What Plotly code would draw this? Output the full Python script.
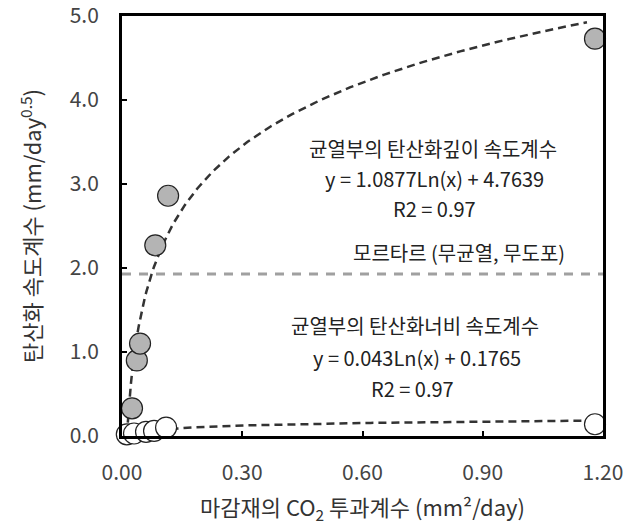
import numpy as np
import plotly.graph_objects as go

# Data
depth_x = [0.025, 0.037, 0.045, 0.083, 0.115, 1.18]
depth_y = [0.33, 0.90, 1.10, 2.27, 2.86, 4.73]
width_x = [0.012, 0.03, 0.06, 0.08, 0.11, 1.18]
width_y = [0.02, 0.03, 0.05, 0.06, 0.10, 0.14]
depth_fit = (1.0877, 4.7639)
width_fit = (0.043, 0.1765)
mortar_y = 1.93
x_ticks = [0.0, 0.3, 0.6, 0.9, 1.2]
x_ticklabels = ["0.00", "0.30", "0.60", "0.90", "1.20"]
y_ticks = [0, 1, 2, 3, 4, 5]
y_ticklabels = ["0.0", "1.0", "2.0", "3.0", "4.0", "5.0"]

font = "Noto Sans CJK KR"

fx_d = np.linspace(0.0145, 1.16, 300)
fy_d = depth_fit[0] * np.log(fx_d) + depth_fit[1]
fx_w = np.linspace(0.025, 1.165, 300)
fy_w = width_fit[0] * np.log(fx_w) + width_fit[1]

fig = go.Figure()
fig.add_trace(go.Scatter(x=[0, 1.2], y=[mortar_y, mortar_y], mode="lines",
                         line=dict(color="#a0a0a0", width=3, dash="9px,8px"),
                         hoverinfo="skip"))
fig.add_trace(go.Scatter(x=fx_d, y=fy_d, mode="lines",
                         line=dict(color="#333333", width=2.5, dash="8px,5px")))
fig.add_trace(go.Scatter(x=fx_w, y=fy_w, mode="lines",
                         line=dict(color="#333333", width=2.5, dash="8px,5px")))
fig.add_trace(go.Scatter(x=depth_x, y=depth_y, mode="markers",
                         marker=dict(size=21, color="#b4b4b4",
                                     line=dict(color="#222222", width=1.2))))
fig.add_trace(go.Scatter(x=width_x, y=width_y, mode="markers",
                         marker=dict(size=21, color="white",
                                     line=dict(color="#222222", width=1.2))))

ann = [
    ("균열부의 탄산화깊이 속도계수", 0.775, 3.42),
    ("y = 1.0877Ln(x) + 4.7639", 0.78, 3.06),
    ("R2 = 0.97", 0.78, 2.71),
    ("모르타르 (무균열, 무도포)", 0.84, 2.18),
    ("균열부의 탄산화너비 속도계수", 0.73, 1.32),
    ("y = 0.043Ln(x) + 0.1765", 0.737, 0.93),
    ("R2 = 0.97", 0.725, 0.56),
]
annotations = [dict(x=x, y=y, xref="x", yref="y", text=t, showarrow=False,
                    font=dict(family=font, size=20, color="#222222"))
               for t, x, y in ann]

fig.update_layout(
    width=638, height=526,
    margin=dict(l=122, r=35, t=16, b=90),
    plot_bgcolor="white", paper_bgcolor="white",
    showlegend=False,
    annotations=annotations,
    font=dict(family=font, color="#333333"),
    xaxis=dict(range=[0, 1.2], tickvals=x_ticks, ticktext=x_ticklabels,
               showgrid=False, zeroline=False, showline=True, linecolor="black",
               linewidth=3, mirror=True, ticks="inside", ticklen=5,
               tickcolor="black", tickwidth=1.5, ticklabelstandoff=16,
               ticklabeloverflow="allow", automargin=False,
               tickfont=dict(family=font, size=21, color="#444444"),
               title=dict(text="마감재의 CO<sub>2</sub> 투과계수 (mm²/day)",
                          font=dict(family=font, size=22, color="#333333"),
                          standoff=16)),
    yaxis=dict(range=[0, 5], tickvals=y_ticks, ticktext=y_ticklabels,
               showgrid=False, zeroline=False, showline=True, linecolor="black",
               linewidth=3, mirror=True, ticks="inside", ticklen=5,
               tickcolor="black", tickwidth=1.5, ticklabelstandoff=16,
               ticklabeloverflow="allow", automargin=False,
               tickfont=dict(family=font, size=21, color="#444444"),
               title=dict(text="탄산화 속도계수 (mm/day<sup>0.5</sup>)",
                          font=dict(family=font, size=22, color="#333333"),
                          standoff=22)),
)
fig.update_traces(cliponaxis=False)
fig.write_html("out.html")
